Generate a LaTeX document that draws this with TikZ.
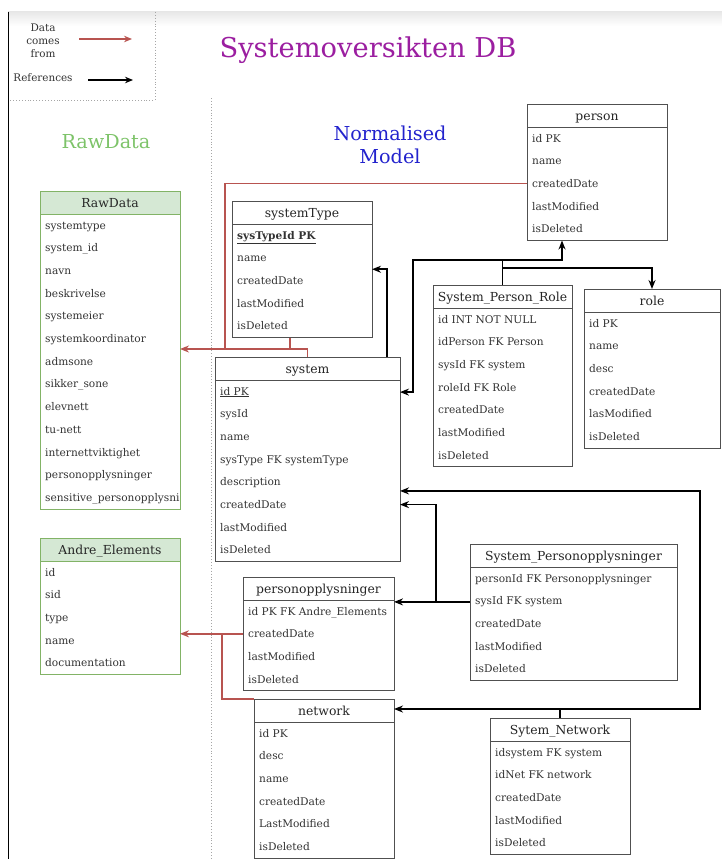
\documentclass[tikz,border=0pt]{standalone}
\usepackage{fontspec}
\setmainfont{DejaVu Serif}
\usetikzlibrary{arrows.meta,calc,positioning}

\definecolor{datared}{RGB}{184,84,80}
\definecolor{tblline}{RGB}{80,80,80}
\definecolor{rowgray}{RGB}{50,50,50}
\definecolor{rawfill}{RGB}{213,232,212}
\definecolor{rawline}{RGB}{130,179,102}
\definecolor{titlepurple}{RGB}{155,30,160}
\definecolor{modelblue}{RGB}{35,35,205}
\definecolor{rawgreen}{RGB}{125,195,105}

\tikzset{
  tblbox/.style={draw=tblline, line width=1pt, inner sep=0pt, outer sep=0pt, rectangle},
  tblhdfill/.style={fill=white},
  rawbox/.style={tblbox, draw=rawline},
  rawhdfill/.style={fill=rawfill},
  tblhead/.style={inner sep=0pt, anchor=base, font=\fontsize{12.4}{14}\selectfont, text=black!85},
  tblrow/.style={inner sep=0pt, anchor=base west, font=\fontsize{10.6}{12}\selectfont, text=rowgray},
  datafrom/.style={draw=datared, line width=1.6pt, -{Stealth[length=9pt,width=7pt]}},
  refers/.style={draw=black, line width=1.6pt, -{Stealth[length=9pt,width=7pt]}},
  noarrow/.style={arrows=-},
  guide/.style={draw=gray!70, line width=0.9pt, dotted},
}

% #1 style prefix, #2 name, #3 x, #4 top, #5 width, #6 title, #7 fields
\newcommand\erdtable[7]{%
  \foreach \fld [count=\k] in {#7} {\xdef\erdrows{\k}}
  \path[#1hdfill] (#3,#4) rectangle ($(#3,#4)+(#5,23)$);
  \node[#1box, minimum width=#5pt, minimum height=23pt+\erdrows*22.7pt, anchor=north west] (#2) at (#3,#4) {};
  \draw[#1box] (#2.north west) ++(0,23) -- ++(#5,0);
  \node[tblhead] (#2-h) at ($(#2.north)+(0,16)$) {#6};
  \foreach \fld [count=\k] in {#7}
    \node[tblrow] (#2-\k) at ($(#2.north west)+(5,{23+(\k-0.5)*22.7+3.7})$) {\fld};
}

\begin{document}
\begin{tikzpicture}[x=1pt,y=1pt,yscale=-1,xscale=1]
\useasboundingbox (0,0) rectangle (722,859);

%Frame of the screen shot
\shade[top color=gray!18, bottom color=white] (8,12) rectangle (722,26);
\draw[line width=1pt] (8,12) -- (8,859);

%Dotted guides
\draw[guide] (155,12) -- (155,100) -- (10,100);
\draw[guide] (211,98) -- (211,859);

% Text Node
\node[font=\fontsize{10.4}{13}\selectfont, align=center, text=black!80] (lgdata) at (43,41) {Data\\comes\\from};
% Text Node
\node[font=\fontsize{10.4}{12}\selectfont, text=black!80] (lgref) at (43,78) {References};
\coordinate (lgdataend) at (132,39);
\coordinate (lgrefend) at (133,80);
\draw[datafrom, line width=1.5pt, -{Stealth[length=8pt,width=6.5pt]}] (lgdata.east |- lgdataend) ++(16,0) -- (lgdataend);
\draw[refers, line width=1.5pt, -{Stealth[length=8pt,width=6.5pt]}] (lgref.east |- lgrefend) ++(12,0) -- (lgrefend);

% Text Node
\node[font=\fontsize{27.3}{32}\selectfont, text=titlepurple] (title) at (368,50) {Systemoversikten DB};
% Text Node
\node[font=\fontsize{19.2}{22}\selectfont, text=rawgreen] (rawlabel) at (106,142) {RawData};
% Text Node
\node[font=\fontsize{19.2}{23}\selectfont, align=center, text=modelblue] (modellabel) at (390,145) {Normalised\\Model};

%Tables: raw data
\erdtable{raw}{RawData}{40}{191}{140}{RawData}{systemtype,system\_id,navn,beskrivelse,systemeier,systemkoordinator,admsone,sikker\_sone,elevnett,tu-nett,internettviktighet,personopplysninger,sensitive\_personopplysni}
\erdtable{raw}{andre}{40}{538}{140}{Andre\_Elements}{id,sid,type,name,documentation}

%Tables: normalised model
\erdtable{tbl}{systype}{232}{201}{140}{systemType}{\textbf{\underline{sysTypeId PK}},name,createdDate,lastModified,isDeleted}
\erdtable{tbl}{system}{215}{357}{185}{system}{\underline{id PK},sysId,name,sysType FK systemType,description,createdDate,lastModified,isDeleted}
\erdtable{tbl}{person}{527}{104}{140}{person}{id PK,name,createdDate,lastModified,isDeleted}
\erdtable{tbl}{spr}{433}{285}{139}{System\_Person\_Role}{id INT NOT NULL,idPerson FK Person,sysId FK system,roleId FK Role,createdDate,lastModified,isDeleted}
\erdtable{tbl}{role}{584}{289}{136}{role}{id PK,name,desc,createdDate,lasModified,isDeleted}
\erdtable{tbl}{syspers}{470}{544}{207}{System\_Personopplysninger}{personId FK Personopplysninger,sysId FK system,createdDate,lastModified,isDeleted}
\erdtable{tbl}{persopp}{243}{577}{151}{personopplysninger}{id PK FK Andre\_Elements,createdDate,lastModified,isDeleted}
\erdtable{tbl}{network}{254}{699}{140}{network}{id PK,desc,name,createdDate,LastModified,isDeleted}
\erdtable{tbl}{sysnet}{490}{718}{140}{Sytem\_Network}{idsystem FK system,idNet FK network,createdDate,lastModified,isDeleted}

%Data comes from
\coordinate (rawjoin) at (225,349);
\coordinate (systypetap) at ($(systype.south)+(-12,0)$);
\draw[datafrom, noarrow] (person.west |- person-3) -| (rawjoin);
\draw[datafrom, noarrow] (systypetap) -- (systypetap |- rawjoin);
\draw[datafrom] (system.north) |- (rawjoin) -- (rawjoin -| RawData.east);

\coordinate (andrejoin) at ($(persopp.west |- persopp-2)+(-21,0)$);
\draw[datafrom, noarrow] (network.north west) -| (andrejoin);
\draw[datafrom] (persopp.west |- persopp-2) -- (andrejoin) -- (andrejoin -| andre.east);

%References
\draw[refers] ($(system.north east)+(-13,0)$) |- (systype.east);

\coordinate (sprtop) at ($(spr.north)+(0,-25)$);
\draw[refers] (spr.north) -- (sprtop) -| ($(person.south)+(-35,0)$);
\draw[refers] (sprtop) -| ($(system.east |- system-1)+(13,0)$) -- (system.east |- system-1);
\draw[refers] ($(spr.north)+(0,-17)$) -| (role.north);

\coordinate (spjoin) at ($(syspers.west |- syspers-2)+(-34,0)$);
\draw[refers, noarrow] (syspers.west |- syspers-2) -- (spjoin);
\draw[refers] (spjoin) -- (spjoin -| persopp.east);
\draw[refers] (spjoin) |- (system.east |- system-6);

\coordinate (snjoin) at ($(sysnet.north)+(0,-9)$);
\draw[refers] (sysnet.north) -- (snjoin) -- (snjoin -| network.east);
\draw[refers] (snjoin) -- ++(140,0) |- ($(system.east |- system-5)+(0,8)$);

\end{tikzpicture}
\end{document}
